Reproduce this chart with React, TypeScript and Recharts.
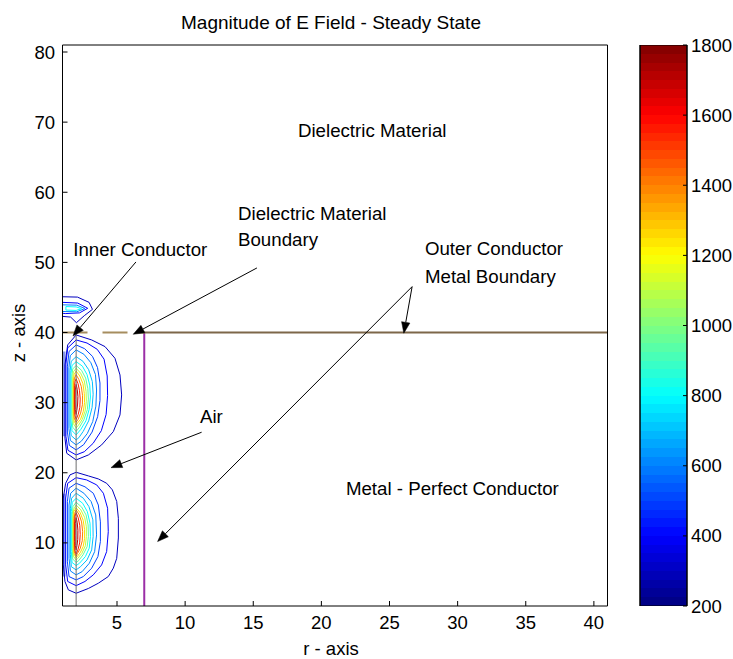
import React from 'react';
import {
  LineChart,
  Line,
  XAxis,
  YAxis,
  ReferenceLine,
  ReferenceDot,
  ReferenceArea,
  Label,
  ComposedChart,
  Bar,
} from 'recharts';

const FONT = '"Liberation Sans", Arial, Helvetica, sans-serif';

// ---------- axes ----------
const xDomain: [number, number] = [1, 41];
const yDomain: [number, number] = [1, 81];
const xTicks = [5, 10, 15, 20, 25, 30, 35, 40];
const yTicks = [10, 20, 30, 40, 50, 60, 70, 80];
const cbTicks = [200, 400, 600, 800, 1000, 1200, 1400, 1600, 1800];
const cbDomain: [number, number] = [200, 1800];

// ---------- contour levels (|E|) ----------
const lobeLevels = [300, 400, 500, 600, 700, 800, 950, 1100, 1250, 1400, 1550, 1700];
const smallLevels = [300, 400, 600, 800];

type P = [number, number]; // [r, z]

// lower lobe contours (outer -> inner)
const lowerLobe: P[][] = [
  [[2,20.07],[2.9,19.55],[3.63,19.12],[4.24,18.5],[4.66,17.56],[4.98,15.9],[5.1,13.5],[5.1,10.7],[4.98,7.8],[4.73,6.4],[4.36,5.2],[3.63,4.25],[2.9,3.5],[2,2.82],[1.43,3.3],[1.18,4.5],[1.06,6.86],[1.06,16.4],[1.23,18.5],[1.55,19.7],[2,20.07]],
  [[2,19.3],[2.77,18.98],[3.51,18.27],[4.0,17.08],[4.31,14.94],[4.36,11.6],[4.24,8.76],[3.87,6.86],[3.26,5.44],[2.65,4.5],[2,3.9],[1.38,4.5],[1.23,6.86],[1.23,16.4],[1.38,18.5],[2,19.3]],
  [[2,18.5],[2.65,18.0],[3.26,17.08],[3.63,15.4],[3.78,13.0],[3.78,10.2],[3.6,8.05],[3.14,6.39],[2.53,5.2],[2,4.72],[1.48,5.2],[1.36,7.3],[1.36,15.9],[1.48,17.8],[2,18.5]],
  [[2,17.8],[2.57,17.08],[3.1,15.9],[3.44,13.99],[3.5,11.14],[3.36,8.76],[2.97,7.1],[2.44,5.9],[2,5.44],[1.58,6.0],[1.48,7.8],[1.48,15.4],[1.6,17.08],[2,17.8]],
  [[2,17.08],[2.53,16.37],[2.94,15.18],[3.23,13.28],[3.25,10.9],[3.14,9.0],[2.8,7.57],[2.32,6.6],[2,6.15],[1.65,6.6],[1.58,8.3],[1.58,14.94],[1.67,16.37],[2,17.08]],
  [[2,16.37],[2.48,15.65],[2.82,14.47],[3.02,12.8],[3.05,10.9],[2.96,9.24],[2.68,8.05],[2.25,7.1],[2,6.77],[1.7,7.2],[1.65,8.76],[1.65,14.47],[1.72,15.8],[2,16.37]],
  [[2,15.8],[2.41,15.1],[2.73,13.99],[2.88,12.56],[2.9,10.9],[2.81,9.47],[2.51,8.3],[2.2,7.5],[2,7.2],[1.75,7.7],[1.72,9.24],[1.72,13.99],[1.77,15.18],[2,15.8]],
  [[2,15.4],[2.35,14.7],[2.63,13.6],[2.75,12.3],[2.75,10.9],[2.68,9.6],[2.42,8.5],[2.12,7.8],[2,7.55],[1.8,8.1],[1.77,9.5],[1.77,13.7],[1.82,14.8],[2,15.4]],
  [[2,15.0],[2.3,14.3],[2.52,13.2],[2.62,11.9],[2.62,10.6],[2.52,9.5],[2.3,8.6],[2.1,8.1],[2,7.85],[1.83,8.5],[1.8,10],[1.8,13.5],[1.84,14.5],[2,15.0]],
  [[2,14.7],[2.23,14.0],[2.4,13.0],[2.48,11.6],[2.45,10.3],[2.3,9.2],[2.1,8.5],[2,8.1],[1.87,8.7],[1.85,10.3],[1.85,13.4],[1.9,14.2],[2,14.7]],
  [[2,14.3],[2.15,13.6],[2.27,12.5],[2.3,11.2],[2.26,10.0],[2.13,9.0],[2,8.4],[1.9,9.0],[1.88,10.2],[1.88,13.0],[1.92,13.8],[2,14.3]],
  [[2,13.6],[2.08,12.9],[2.13,11.8],[2.12,10.5],[2.06,9.6],[2,9.0],[1.94,9.6],[1.93,11],[1.94,12.8],[2,13.6]],
];

// upper lobe contours (outer -> inner)
const upperLobe: P[][] = [
  [[2,39.65],[3.14,38.94],[4.12,37.99],[4.85,36.33],[5.22,33.95],[5.34,31.1],[5.22,28.25],[4.73,25.87],[3.87,23.97],[2.9,22.54],[2,21.83],[1.31,22.78],[1.18,24.92],[1.18,35.38],[1.38,38.23],[2,39.65]],
  [[2,38.94],[2.8,38.5],[3.55,37.6],[4.05,36.2],[4.28,33.8],[4.31,31.0],[4.2,28.3],[3.85,26.0],[3.25,24.2],[2.6,23.0],[2,22.54],[1.4,23.2],[1.25,25.2],[1.25,35.5],[1.38,37.8],[2,38.94]],
  [[2,38.23],[2.62,37.7],[3.2,36.6],[3.57,35.0],[3.75,32.8],[3.75,30.3],[3.58,28.0],[3.17,25.8],[2.55,24.0],[2,23.26],[1.5,23.9],[1.36,25.8],[1.36,35.2],[1.48,37.3],[2,38.23]],
  [[2,37.52],[2.57,36.9],[3.08,35.7],[3.42,34.0],[3.5,31.8],[3.45,29.5],[3.22,27.3],[2.82,25.6],[2.38,24.5],[2,23.97],[1.58,24.6],[1.47,26.3],[1.47,35.0],[1.57,36.7],[2,37.52]],
  [[2,36.56],[2.5,35.9],[2.92,34.7],[3.19,33.0],[3.25,31.2],[3.17,29.3],[2.92,27.4],[2.52,25.9],[2.2,25.0],[2,24.68],[1.64,25.3],[1.56,26.8],[1.56,34.6],[1.64,35.9],[2,36.56]],
  [[2,35.85],[2.46,35.2],[2.8,34.0],[3.0,32.5],[3.05,30.8],[2.95,29.0],[2.72,27.4],[2.35,26.2],[2,25.4],[1.7,26.0],[1.63,27.4],[1.63,34.2],[1.7,35.3],[2,35.85]],
  [[2,35.3],[2.4,34.6],[2.7,33.5],[2.86,32.0],[2.9,30.5],[2.82,29.0],[2.58,27.6],[2.25,26.5],[2,25.9],[1.75,26.5],[1.69,28.0],[1.69,33.7],[1.75,34.8],[2,35.3]],
  [[2,34.9],[2.33,34.2],[2.6,33.1],[2.73,31.6],[2.75,30.2],[2.66,28.8],[2.45,27.6],[2.18,26.8],[2,26.4],[1.8,27.0],[1.75,28.4],[1.75,33.5],[1.8,34.4],[2,34.9]],
  [[2,34.5],[2.27,33.8],[2.5,32.7],[2.6,31.3],[2.62,30.0],[2.52,28.7],[2.32,27.6],[2.1,27.1],[2,26.8],[1.84,27.4],[1.8,28.8],[1.8,33.2],[1.85,34.0],[2,34.5]],
  [[2,34.0],[2.2,33.3],[2.38,32.3],[2.47,31.0],[2.46,29.7],[2.33,28.5],[2.14,27.6],[2,27.2],[1.86,27.8],[1.84,29.3],[1.84,32.9],[1.88,33.5],[2,34.0]],
  [[2,33.4],[2.14,32.7],[2.25,31.7],[2.3,30.5],[2.27,29.3],[2.15,28.3],[2,27.6],[1.9,28.3],[1.88,29.8],[1.88,32.4],[1.92,33.0],[2,33.4]],
  [[2,32.6],[2.08,31.9],[2.13,30.9],[2.11,29.8],[2.05,28.9],[2,28.3],[1.94,29.0],[1.93,30.4],[1.94,31.8],[2,32.6]],
];

// small lobe above the dielectric boundary
const smallLobe: P[][] = [
  [[1,45.1],[2.1,45.05],[2.95,44.3],[3.2,43.3],[2.6,42.4],[2.02,41.4],[1.6,42.2],[1,42.3]],
  [[1,44.3],[2.12,44.2],[2.85,43.45],[2.25,42.8],[1.2,42.7],[1,42.75]],
  [[1,43.95],[2.05,43.9],[2.65,43.42],[2.05,42.95],[1,43.0]],
  [[1.25,43.7],[2.0,43.65],[2.4,43.4],[2.0,43.15],[1.25,43.2],[1.25,43.7]],
];

// dense edge strips along r = 1
const edgeStrips: { r: [number, number]; z: [number, number] }[] = [
  { r: [1, 1.22], z: [5.2, 17.0] },
  { r: [1, 1.22], z: [25.2, 37.3] },
];

// geometry lines
const innerConductor: P[] = [[2, 1], [2, 40]];
const outerWall: P[] = [[7, 1], [7, 40]];
const dielectricBoundary: P[] = [[1, 40], [7, 40]];
const metalBoundary: P[] = [[6.4, 40], [41, 40]];

// annotations
const arrows: { from: P; to: P }[] = [
  { from: [6.39, 50.06], to: [1.77, 39.5] },
  { from: [15.27, 49.21], to: [6.19, 39.75] },
  { from: [26.66, 46.54], to: [26.05, 39.9] },
  { from: [26.66, 46.54], to: [7.98, 10.19] },
  { from: [11.21, 25.78], to: [4.56, 20.73] },
];

const notes: { text: string; at: P }[] = [
  { text: 'Dielectric Material', at: [18.28, 67.94] },
  { text: 'Dielectric Material', at: [13.88, 56.0] },
  { text: 'Boundary', at: [13.88, 52.35] },
  { text: 'Inner Conductor', at: [1.79, 50.92] },
  { text: 'Outer Conductor', at: [27.6, 51.06] },
  { text: 'Metal Boundary', at: [27.6, 47.02] },
  { text: 'Air', at: [11.09, 27.07] },
  { text: 'Metal - Perfect Conductor', at: [21.8, 16.76] },
];

// ---------- colour scale (MATLAB jet) ----------
const jet = (t: number) => {
  const c = (v: number) => Math.round(255 * Math.max(0, Math.min(1, v)));
  return `rgb(${c(1.5 - Math.abs(4 * t - 3))},${c(1.5 - Math.abs(4 * t - 2))},${c(1.5 - Math.abs(4 * t - 1))})`;
};
const levelColor = (v: number) => jet((v - cbDomain[0]) / (cbDomain[1] - cbDomain[0]));
const JET_STEPS = 64;

const toData = (pts: P[]) => pts.map(([r, z]) => ({ r, z }));

const ArrowShape = (props: any) => {
  const { x1, y1, x2, y2 } = props;
  if ([x1, y1, x2, y2].some((v) => typeof v !== 'number' || isNaN(v))) return null;
  const a = Math.atan2(y2 - y1, x2 - x1);
  const len = 11;
  const hw = 4.2;
  const bx = x2 - len * Math.cos(a);
  const by = y2 - len * Math.sin(a);
  const px = -Math.sin(a) * hw;
  const py = Math.cos(a) * hw;
  return (
    <g>
      <line x1={x1} y1={y1} x2={bx} y2={by} stroke="#000" strokeWidth={1} />
      <polygon points={`${x2},${y2} ${bx + px},${by + py} ${bx - px},${by - py}`} fill="#000" stroke="#000" strokeWidth={0.5} />
    </g>
  );
};

const tickStyle = { fill: '#000', fontSize: 18.5, fontFamily: FONT };
const hiddenDot = { r: 0, stroke: 'none', fill: 'none', strokeWidth: 0 };

export default function App() {
  const stops: React.ReactNode[] = [];
  for (let k = 0; k < JET_STEPS; k++) {
    const col = jet((k + 0.5) / JET_STEPS);
    stops.push(<stop key={`a${k}`} offset={k / JET_STEPS} stopColor={col} />);
    stops.push(<stop key={`b${k}`} offset={(k + 1) / JET_STEPS} stopColor={col} />);
  }
  const cbData = [{ name: 'E', range: cbDomain, lo: cbDomain[0] }];

  const contourLines: React.ReactNode[] = [];
  lowerLobe.forEach((pts, i) =>
    contourLines.push(
      <Line key={`lo${i}`} data={toData(pts)} dataKey="z" type="linear" stroke={levelColor(lobeLevels[i])} strokeWidth={1} dot={false} isAnimationActive={false} />
    )
  );
  upperLobe.forEach((pts, i) =>
    contourLines.push(
      <Line key={`up${i}`} data={toData(pts)} dataKey="z" type="linear" stroke={levelColor(lobeLevels[i])} strokeWidth={1} dot={false} isAnimationActive={false} />
    )
  );
  smallLobe.forEach((pts, i) =>
    contourLines.push(
      <Line key={`sm${i}`} data={toData(pts)} dataKey="z" type="linear" stroke={levelColor(smallLevels[i])} strokeWidth={1} dot={false} isAnimationActive={false} />
    )
  );

  return (
    <div style={{ position: 'absolute', left: 0, top: 0, width: 733, height: 659, background: '#fff', fontFamily: FONT }}>
      <div style={{ position: 'absolute', left: 0, top: 0 }}>
        <LineChart width={733} height={659} margin={{ top: 44, right: 124.5, bottom: 23, left: 22.5 }}>
          <XAxis
            dataKey="r"
            type="number"
            domain={xDomain}
            ticks={xTicks}
            allowDataOverflow
            height={30}
            tickSize={-5}
            tickMargin={15}
            tick={tickStyle}
            axisLine={{ stroke: '#000' }}
            tickLine={{ stroke: '#000' }}
          >
            <Label
              content={() => (
                <text x={331} y={655} textAnchor="middle" fontSize={18.5} fontFamily={FONT} fill="#000">
                  r - axis
                </text>
              )}
            />
            <Label
              content={() => (
                <text x={331} y={28.5} textAnchor="middle" fontSize={19} fontFamily={FONT} fill="#000">
                  Magnitude of E Field - Steady State
                </text>
              )}
            />
          </XAxis>
          <XAxis
            xAxisId="top"
            orientation="top"
            dataKey="r"
            type="number"
            domain={xDomain}
            ticks={xTicks}
            allowDataOverflow
            height={1}
            tickSize={-5}
            tick={false}
            axisLine={{ stroke: '#000' }}
            tickLine={{ stroke: '#000' }}
          />
          <YAxis
            dataKey="z"
            type="number"
            domain={yDomain}
            ticks={yTicks}
            allowDataOverflow
            width={40}
            tickSize={-5}
            tickMargin={12.5}
            tick={tickStyle}
            axisLine={{ stroke: '#000' }}
            tickLine={{ stroke: '#000' }}
          >
            <Label
              content={() => (
                <text x={25} y={333} transform="rotate(-90 25 333)" textAnchor="middle" fontSize={18.5} fontFamily={FONT} fill="#000">
                  z - axis
                </text>
              )}
            />
          </YAxis>
          <YAxis
            yAxisId="right"
            orientation="right"
            dataKey="z"
            type="number"
            domain={yDomain}
            ticks={yTicks}
            allowDataOverflow
            width={1}
            tickSize={-5}
            tick={false}
            axisLine={{ stroke: '#000' }}
            tickLine={{ stroke: '#000' }}
          />

          {edgeStrips.map((s, i) => (
            <ReferenceArea key={`st${i}`} x1={s.r[0]} x2={s.r[1]} y1={s.z[0]} y2={s.z[1]} fill="#8597e6" fillOpacity={1} stroke="none" ifOverflow="visible" />
          ))}

          {contourLines}

          <Line data={toData(innerConductor)} dataKey="z" type="linear" stroke="#6e6e6e" strokeWidth={1} dot={false} isAnimationActive={false} />
          <Line data={toData(outerWall)} dataKey="z" type="linear" stroke="#9b2fa6" strokeWidth={2} dot={false} isAnimationActive={false} />
          <Line data={toData(dielectricBoundary)} dataKey="z" type="linear" stroke="#a68d5f" strokeWidth={2} strokeDasharray="25 15" dot={false} isAnimationActive={false} />
          <Line xAxisId="top" yAxisId="right" data={toData(metalBoundary)} dataKey="z" type="linear" stroke="#7d6749" strokeWidth={2} dot={false} isAnimationActive={false} />

          {arrows.map((a, i) => (
            <ReferenceLine
              key={`ar${i}`}
              segment={[{ x: a.from[0], y: a.from[1] }, { x: a.to[0], y: a.to[1] }]}
              ifOverflow="visible"
              shape={ArrowShape}
            />
          ))}

          {notes.map((n, i) => (
            <ReferenceDot
              key={`nt${i}`}
              x={n.at[0]}
              y={n.at[1]}
              r={0}
              ifOverflow="visible"
              shape={(p: any) => (
                <text x={p.cx} y={p.cy} fontSize={18.7} fontFamily={FONT} fill="#000">
                  {n.text}
                </text>
              )}
            />
          ))}
        </LineChart>
      </div>

      <div style={{ position: 'absolute', left: 0, top: 0 }}>
        <ComposedChart width={733} height={659} data={cbData} margin={{ top: 45, right: 0, bottom: 53, left: 639 }} barCategoryGap={0} barGap={0}>
          <defs>
            <linearGradient id="jetGrad" x1="0" y1="1" x2="0" y2="0">
              {stops}
            </linearGradient>
          </defs>
          <XAxis dataKey="name" hide />
          <YAxis
            yAxisId="cbl"
            orientation="left"
            type="number"
            domain={cbDomain}
            ticks={cbTicks}
            allowDataOverflow
            width={1}
            tickSize={-4}
            tick={false}
            axisLine={{ stroke: '#000' }}
            tickLine={{ stroke: '#000' }}
          />
          <YAxis
            orientation="right"
            type="number"
            domain={cbDomain}
            ticks={cbTicks}
            allowDataOverflow
            width={46}
            tickSize={-4}
            tickMargin={8}
            tick={tickStyle}
            axisLine={{ stroke: '#000' }}
            tickLine={{ stroke: '#000' }}
          />
          <Bar dataKey="range" fill="url(#jetGrad)" stroke="#000" strokeWidth={1} isAnimationActive={false} />
          <Line yAxisId="cbl" dataKey="lo" stroke="none" strokeWidth={0} dot={hiddenDot} activeDot={false} isAnimationActive={false} />
        </ComposedChart>
      </div>
    </div>
  );
}
